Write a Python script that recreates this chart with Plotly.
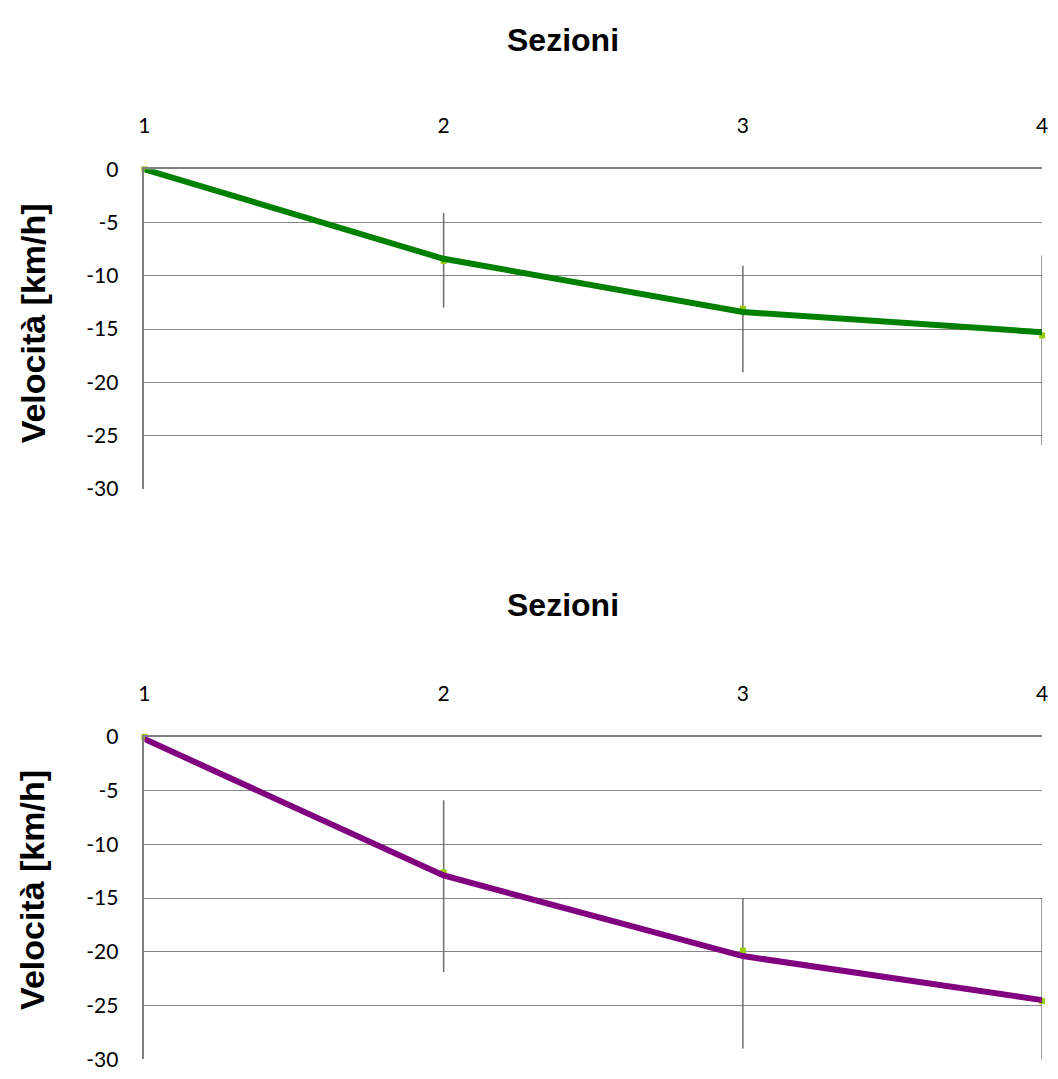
import plotly.graph_objects as go

# Sections along the route
sections = [1, 2, 3, 4]
x_tick_labels = ["1", "2", "3", "4"]
y_tick_values = [0, -5, -10, -15, -20, -25, -30]
y_tick_labels = ["0", "-5", "-10", "-15", "-20", "-25", "-30"]

# Upper chart: mean speed variation (line) and measured points with spread
top_line = [0, -8.4, -13.4, -15.3]
top_points = [0, -8.6, -13.1, -15.6]
top_err_up = [0, 4.5, 4.05, 7.5]
top_err_down = [0, 4.4, 5.95, 10.3]

# Lower chart
bottom_line = [-0.2, -12.9, -20.4, -24.5]
bottom_points = [0, -12.6, -19.9, -24.6]
bottom_err_up = [0, 6.7, 4.9, 9.6]
bottom_err_down = [0, 9.3, 9.1, 9.6]

W, H = 1058, 1079
GRID = "#878787"
AXIS = "#7f7f7f"
POINT = "#99cc00"

def px_x(p):
    return p / W

def px_y(p):
    return 1 - p / H

fig = go.Figure()

panels = [
    dict(line=top_line, pts=top_points, up=top_err_up, down=top_err_down,
         color="#008000", xa="x", ya="y", top=159, bottom=486, title_y=27, ytitle_y=317),
    dict(line=bottom_line, pts=bottom_points, up=bottom_err_up, down=bottom_err_down,
         color="#800080", xa="x2", ya="y2", top=740, bottom=1070, title_y=605, ytitle_y=897),
]

annotations = []
for p in panels:
    # measured points with their spread
    fig.add_trace(go.Scatter(
        x=sections, y=p["pts"], mode="markers", xaxis=p["xa"], yaxis=p["ya"],
        marker=dict(symbol="square", size=6, color=POINT),
        error_y=dict(type="data", symmetric=False, array=p["up"], arrayminus=p["down"],
                     color="#6e6e6e", thickness=1.5, width=0),
        cliponaxis=False, showlegend=False, hoverinfo="skip",
    ))
    # mean trend line
    fig.add_trace(go.Scatter(
        x=sections, y=p["line"], mode="lines", xaxis=p["xa"], yaxis=p["ya"],
        line=dict(color=p["color"], width=6),
        showlegend=False,
    ))
    annotations.append(dict(
        text="<b>Sezioni</b>", xref="paper", yref="paper",
        x=px_x(563), y=px_y(p["title_y"]), xanchor="center", yanchor="middle",
        showarrow=False, font=dict(family="Liberation Sans, Arial", size=32, color="#000"),
    ))
    annotations.append(dict(
        text="<b>Velocità [km/h]</b>", xref="paper", yref="paper", textangle=-90,
        x=px_x(27), y=px_y(p["ytitle_y"]), xanchor="center", yanchor="middle",
        showarrow=False, font=dict(family="Liberation Sans, Arial", size=34, color="#000"),
    ))

tick_font = dict(family="Lato, Open Sans, sans-serif", size=21, color="#000")

def x_axis(anchor):
    return dict(
        domain=[px_x(140), px_x(1048)], anchor=anchor, side="top",
        range=[1, 4], tickmode="array", tickvals=sections, ticktext=x_tick_labels,
        showgrid=False, zeroline=False, showline=True, linecolor=AXIS, linewidth=1.5,
        ticks="", tickfont=tick_font, ticklabelstandoff=26,
    )

def y_axis(top, bottom, anchor):
    return dict(
        domain=[px_y(bottom), px_y(top)], anchor=anchor,
        range=[-30, 0], tickmode="array", tickvals=y_tick_values, ticktext=y_tick_labels,
        showgrid=True, gridcolor=GRID, gridwidth=1, zeroline=False,
        showline=True, linecolor=AXIS, linewidth=1.5,
        ticks="", tickfont=tick_font, ticklabelstandoff=20,
    )

fig.update_layout(
    width=W, height=H,
    margin=dict(l=0, r=0, t=0, b=0),
    paper_bgcolor="white", plot_bgcolor="white",
    xaxis=x_axis("y"),
    yaxis=y_axis(159, 486, "x"),
    xaxis2=x_axis("y2"),
    yaxis2=y_axis(740, 1070, "x2"),
    annotations=annotations,
)

fig.write_html("out.html")
